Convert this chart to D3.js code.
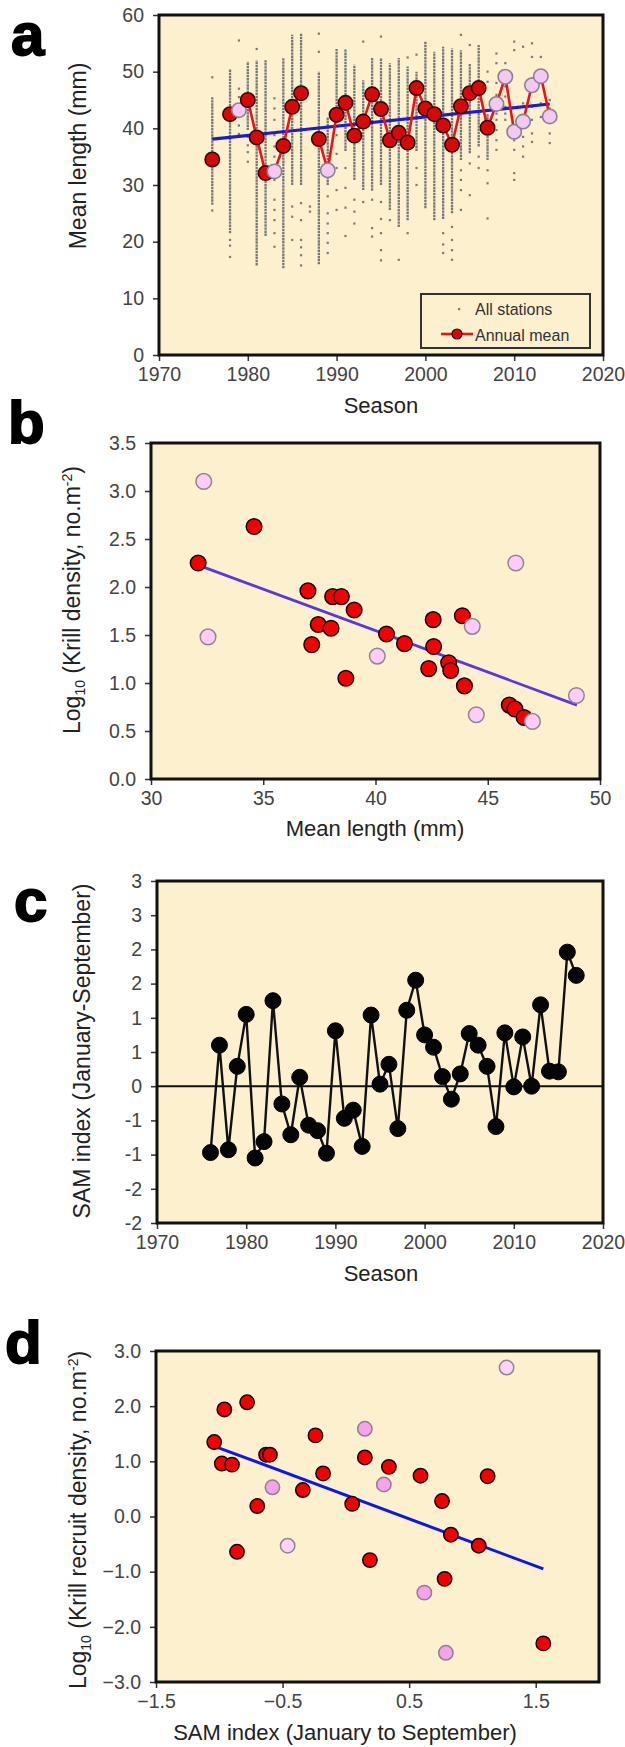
<!DOCTYPE html>
<html><head><meta charset="utf-8">
<script src="https://cdn.jsdelivr.net/npm/d3@7"></script>
<style>body{margin:0;background:#fff}</style>
</head><body><svg id="c" width="625" height="1747"></svg>
<script>
// ---------- DATA ----------
// Panel a: annual mean krill length
const yearsA = [1976,1978,1979,1980,1981,1982,1983,1984,1985,1986,1988,1989,1990,1991,1992,1993,1994,1995,1996,1997,1998,1999,2000,2001,2002,2003,2004,2005,2006,2007,2008,2009,2010,2011,2012,2013,2014];
const meansA = [34.5,42.5,43.2,45.0,38.4,32.1,32.4,36.9,43.8,46.2,38.1,32.6,42.4,44.5,38.7,41.2,46.0,43.4,37.9,39.2,37.5,47.1,43.5,42.5,40.5,37.1,43.9,46.2,47.1,40.1,44.3,49.1,39.4,41.2,47.6,49.2,42.1];
const pinkYearsA = [1979,1983,1989,2008,2009,2010,2011,2012,2013,2014];
const trendA = [[1976,38.1],[2014,44.3]];
// All stations: dense runs [year, low, high] and isolated station values
const stationRuns = [[1976,26.5,45.5],[1978,21.5,50.5],[1980,39.7,51.8],[1981,15.8,52],[1982,21,52],[1984,15.3,52.4],[1985,30,56.5],[1986,30,56.7],[1988,16,50],[1989,30,42],[1990,41,54.1],[1991,36,54],[1992,30.9,51.2],[1993,29.1,48.5],[1994,29,52.4],[1995,30,52.4],[1996,25.6,51.5],[1997,22.6,52.4],[1998,23.8,50.9],[1999,36,50],[2000,25.9,55.3],[2001,23.8,53.5],[2002,24,54.4],[2003,25,54.1],[2004,34.4,53.8],[2005,35.6,51.5],[2006,36.8,54.7],[2007,34.4,42.6]];
const stationDots = [
 [1976,[49,25.5]],[1978,[20.3,19.3,17.3]],[1979,[55.5,47,45.5,44,42,40.5,39]],[1980,[38.5,37,35.8,34.1]],[1981,[54]],
 [1983,[45.3,43.5,41.5,38.8,36.8,35,32.6,30.9,27.4,25.6,23.8,21.5,19.1]],[1985,[26.2,24.4,20.3]],[1986,[26.8,23.8,20.3,19,17.6,15.8]],
 [1987,[26.2,25.3]],[1988,[56.7,53.5]],[1989,[28,25,23.2,21.5,19.8,18]],[1990,[38.8,35.5,33,29.1,25.6]],[1991,[33,29.5,26,21]],
 [1992,[27.4,25.3,23.2]],[1993,[55.3,27]],[1994,[27.4,22.4,20.9]],[1995,[56.2,27,24,21.5,18.5,16.7]],[1996,[23.8]],[1997,[16.8]],
 [1998,[52.5,21.5]],[1999,[53,33,30]],[2002,[21.5,19.5,18]],[2003,[22.6,20.3,18.5,16.8]],[2004,[56.5,32.6,30.9,29.1,25.6]],
 [2005,[54.7,33.8,28.2]],[2006,[35,33]],[2007,[50,48.2,32.6,30.3,24.1]],[2008,[53.2,51.5,48,45.9,44.4,42.6,41.5,39.7,37.9,36.2]],
 [2009,[51.5,49.4,47.4,45.6,43.8,42.6,41.5]],[2010,[55.3,53.8,40.3,37.9,36.2,32.1,30.9]],[2011,[54.4,44.4,42,40.3,38.5,36.8,35]],
 [2012,[55,52.6,48.8,46.5,43.8,41.5,39.1,37.6]],[2013,[52.6,50,44.4,42]],[2014,[45,43.5,41.5,39.1,37.4]]];
const ticksAx = [1970,1980,1990,2000,2010,2020];
const ticksAy = [0,10,20,30,40,50,60];

// Panel b: log10 krill density vs mean length
const bRed = [[34.59,2.63],[32.10,2.25],[36.99,1.96],[38.09,1.90],[38.48,1.90],[39.05,1.76],[37.45,1.61],[38.02,1.57],[37.16,1.40],[38.68,1.05],[40.49,1.51],[41.29,1.41],[42.57,1.66],[42.59,1.38],[42.37,1.15],[43.26,1.21],[43.35,1.13],[43.87,1.70],[43.96,0.97],[45.96,0.77],[46.21,0.73],[46.62,0.64]];
const bPink = [[32.35,3.10],[32.54,1.48],[40.08,1.28],[44.31,1.59],[44.49,0.67],[46.25,2.25],[46.99,0.60],[48.95,0.87]];
const trendB = [[32.31,2.21],[48.97,0.77]];
const ticksBx = [30,35,40,45,50];
const ticksBy = [0,0.5,1,1.5,2,2.5,3,3.5];

// Panel c: SAM index (January-September) by season
const yearsC = d3.range(1976,2018);
const samC = [-0.97,0.60,-0.93,0.29,1.05,-1.05,-0.81,1.25,-0.26,-0.71,0.13,-0.57,-0.65,-0.98,0.81,-0.47,-0.35,-0.88,1.04,0.03,0.32,-0.62,1.11,1.55,0.75,0.57,0.14,-0.19,0.18,0.77,0.60,0.29,-0.59,0.78,-0.01,0.72,0.00,1.19,0.22,0.21,1.96,1.62];
const ticksCx = [1970,1980,1990,2000,2010,2020];
const ticksCy = [-2,-1.5,-1,-0.5,0,0.5,1,1.5,2,2.5,3];

// Panel d: log10 krill recruit density vs SAM index
const dRed = [[-0.78,2.07],[-0.96,1.94],[-1.04,1.35],[-0.98,0.96],[-0.90,0.94],[-0.63,1.12],[-0.60,1.12],[-0.24,1.47],[0.15,1.07],[0.34,0.90],[-0.18,0.78],[-0.34,0.48],[0.59,0.74],[1.12,0.73],[-0.70,0.19],[0.05,0.23],[0.76,0.28],[0.83,-0.33],[1.05,-0.53],[-0.86,-0.64],[0.19,-0.79],[0.78,-1.13],[1.56,-2.30]];
const dPinkMed = [[0.15,1.59],[-0.58,0.53],[0.30,0.58],[0.62,-1.38],[0.79,-2.47]];
const dPinkLight = [[1.27,2.70],[-0.46,-0.53]];
const trendD = [[-1.01,1.25],[1.56,-0.95]];
const ticksDx = [-1.5,-0.5,0.5,1.5];
const ticksDy = [-3,-2,-1,0,1,2,3];

// ---------- DRAWING ----------
const FONT = '"Liberation Sans", Arial, Helvetica, sans-serif';
const BG = '#fdf0cf';
const svg = d3.select('#c').attr('font-family', FONT);
svg.append('rect').attr('width',625).attr('height',1747).attr('fill','#fff');

function panel(L, xd, yd, xt, yt, xf, yf){
  const x = d3.scaleLinear().domain(xd).range([L.x0, L.x1]);
  const y = d3.scaleLinear().domain(yd).range([L.y1, L.y0]);
  const g = svg.append('g');
  g.append('rect').attr('x',L.x0).attr('y',L.y0).attr('width',L.x1-L.x0).attr('height',L.y1-L.y0).attr('fill',BG);
  const gx = g.append('g').attr('transform',`translate(0,${L.y1})`)
    .call(d3.axisBottom(x).tickValues(xt).tickFormat(xf).tickSize(6).tickPadding(6));
  const gy = g.append('g').attr('transform',`translate(${L.x0},0)`)
    .call(d3.axisLeft(y).tickValues(yt).tickFormat(yf).tickSize(6).tickPadding(9));
  [gx,gy].forEach(a=>{
    a.attr('font-family',FONT).attr('font-size',19.5);
    a.select('.domain').remove();
    a.selectAll('line').attr('stroke','#333').attr('stroke-width',1.5);
    a.selectAll('text').attr('fill','#444');
  });
  const marks = g.append('g');
  const border = () => g.append('rect').attr('x',L.x0).attr('y',L.y0).attr('width',L.x1-L.x0).attr('height',L.y1-L.y0)
      .attr('fill','none').attr('stroke','#111').attr('stroke-width',3);
  g.append('text').attr('x',L.xtx).attr('y',L.xty).attr('text-anchor','middle').attr('font-size',22).attr('fill','#222').text(L.xtitle);
  g.append('text').attr('x',L.lx).attr('y',L.ly).attr('font-size',60).attr('font-weight','bold')
    .attr('stroke','#000').attr('stroke-width',1.8).attr('fill','#000').text(L.letter);
  const yl = g.append('text').attr('transform',`translate(${L.ytx},${L.yty}) rotate(-90)`).attr('text-anchor','middle')
    .attr('font-size',23).attr('fill','#222');
  return {x,y,g,marks,border,yl};
}
function supTitle(t, pre, post){
  t.append('tspan').text('Log');
  t.append('tspan').attr('font-size',14).attr('dy',5).text('10');
  t.append('tspan').attr('dy',-5).text(pre);
  t.append('tspan').attr('font-size',14).attr('dy',-8).text('-2');
  t.append('tspan').attr('dy',8).text(post);
}

// ----- Panel a -----
const A = panel({x0:159,x1:603,y0:15,y1:355,xtitle:'Season',xtx:381,xty:413,ytx:86,yty:156,letter:'a',lx:11,ly:55},
  [1970,2020],[0,60],ticksAx,ticksAy,d3.format('d'),d3.format('d'));
A.yl.text('Mean length (mm)');
stationRuns.forEach(([yr,lo,hi])=>{
  A.marks.append('line').attr('x1',A.x(yr)).attr('x2',A.x(yr)).attr('y1',A.y(lo)).attr('y2',A.y(hi))
    .attr('stroke','#777').attr('stroke-width',2.3).attr('stroke-dasharray','2.4 0.7');
});
stationDots.forEach(([yr,vals])=>{
  A.marks.selectAll(null).data(vals).enter().append('rect')
    .attr('x',A.x(yr)-1.1).attr('y',d=>A.y(d)-1.1).attr('width',2.2).attr('height',2.2).attr('fill','#7a7a7a');
});
A.marks.append('line').attr('x1',A.x(trendA[0][0])).attr('y1',A.y(trendA[0][1])).attr('x2',A.x(trendA[1][0])).attr('y2',A.y(trendA[1][1]))
  .attr('stroke','#1c1ccf').attr('stroke-width',3.2);
const meanMap = new Map(yearsA.map((yr,i)=>[yr,meansA[i]]));
const fullYears = d3.range(1976,2015).map(yr=>({yr, v: meanMap.has(yr)?meanMap.get(yr):null}));
A.marks.append('path').datum(fullYears)
  .attr('d', d3.line().defined(d=>d.v!=null).x(d=>A.x(d.yr)).y(d=>A.y(d.v)))
  .attr('fill','none').attr('stroke','#e8141c').attr('stroke-width',2.6);
A.marks.selectAll(null).data(yearsA.map((yr,i)=>({yr,v:meansA[i],pink:pinkYearsA.includes(yr)}))).enter().append('circle')
  .attr('cx',d=>A.x(d.yr)).attr('cy',d=>A.y(d.v)).attr('r',7.2)
  .attr('fill',d=>d.pink?'#f3c9f1':'#d40a0a').attr('stroke',d=>d.pink?'#8d7f95':'#3a0505').attr('stroke-width',1.6);
A.border();
// legend
const lg = A.g.append('g');
lg.append('rect').attr('x',421).attr('y',294).attr('width',169).attr('height',54).attr('fill',BG).attr('stroke','#333').attr('stroke-width',2);
lg.append('rect').attr('x',458).attr('y',308).attr('width',2.2).attr('height',2.2).attr('fill','#7a7a7a');
lg.append('text').attr('x',475).attr('y',315).attr('font-size',16).attr('fill','#333').text('All stations');
lg.append('line').attr('x1',441).attr('x2',473).attr('y1',334).attr('y2',334).attr('stroke','#e8141c').attr('stroke-width',2.6);
lg.append('circle').attr('cx',457).attr('cy',334).attr('r',5).attr('fill','#d40a0a').attr('stroke','#3a0505').attr('stroke-width',1.2);
lg.append('text').attr('x',475).attr('y',341).attr('font-size',16).attr('fill','#333').text('Annual mean');

// ----- Panel b -----
const B = panel({x0:151,x1:600,y0:443,y1:779,xtitle:'Mean length (mm)',xtx:375,xty:836,ytx:80,yty:600,letter:'b',lx:8,ly:443},
  [30,50],[0,3.5],ticksBx,ticksBy,d3.format('d'),d3.format('.1f'));
supTitle(B.yl,' (Krill density, no.m',')');
B.marks.append('line').attr('x1',B.x(trendB[0][0])).attr('y1',B.y(trendB[0][1])).attr('x2',B.x(trendB[1][0])).attr('y2',B.y(trendB[1][1]))
  .attr('stroke','#5a37e0').attr('stroke-width',2.8);
B.marks.selectAll(null).data(bRed).enter().append('circle').attr('cx',d=>B.x(d[0])).attr('cy',d=>B.y(d[1])).attr('r',7.8)
  .attr('fill','#f20000').attr('stroke','#1a0000').attr('stroke-width',1.5);
B.marks.selectAll(null).data(bPink).enter().append('circle').attr('cx',d=>B.x(d[0])).attr('cy',d=>B.y(d[1])).attr('r',7.8)
  .attr('fill','#fdccf8').attr('stroke','#8f8690').attr('stroke-width',1.5);
B.border();

// ----- Panel c -----
const C = panel({x0:157,x1:603,y0:881,y1:1223,xtitle:'Season',xtx:381,xty:1281,ytx:90,yty:1051,letter:'c',lx:14,ly:921},
  [1970,2020],[-2,3],ticksCx,ticksCy,d3.format('d'),d=>String(Math.sign(d)*Math.round(Math.abs(d))).replace('-0','0'));
C.yl.text('SAM index (January-September)');
C.marks.append('line').attr('x1',C.x(1970)).attr('x2',C.x(2020)).attr('y1',C.y(0)).attr('y2',C.y(0)).attr('stroke','#111').attr('stroke-width',2);
C.marks.append('path').datum(yearsC.map((yr,i)=>[yr,samC[i]]))
  .attr('d',d3.line().x(d=>C.x(d[0])).y(d=>C.y(d[1]))).attr('fill','none').attr('stroke','#111').attr('stroke-width',2.4);
C.marks.selectAll(null).data(yearsC.map((yr,i)=>[yr,samC[i]])).enter().append('circle')
  .attr('cx',d=>C.x(d[0])).attr('cy',d=>C.y(d[1])).attr('r',8).attr('fill','#050505').attr('stroke','#000').attr('stroke-width',1);
C.border();

// ----- Panel d -----
const D = panel({x0:156,x1:599,y0:1351,y1:1682,xtitle:'SAM index (January to September)',xtx:345,xty:1740,ytx:86,yty:1520,letter:'d',lx:5,ly:1363},
  [-1.5,2.0],[-3,3],ticksDx,ticksDy,d3.format('.1f'),d3.format('.1f'));
supTitle(D.yl,' (Krill recruit density, no.m',')');
D.marks.append('line').attr('x1',D.x(trendD[0][0])).attr('y1',D.y(trendD[0][1])).attr('x2',D.x(trendD[1][0])).attr('y2',D.y(trendD[1][1]))
  .attr('stroke','#0b18e8').attr('stroke-width',3);
D.marks.selectAll(null).data(dRed).enter().append('circle').attr('cx',d=>D.x(d[0])).attr('cy',d=>D.y(d[1])).attr('r',7.2)
  .attr('fill','#f00000').attr('stroke','#1a0000').attr('stroke-width',1.5);
D.marks.selectAll(null).data(dPinkMed).enter().append('circle').attr('cx',d=>D.x(d[0])).attr('cy',d=>D.y(d[1])).attr('r',7.2)
  .attr('fill','#f5a3ea').attr('stroke','#8f7f90').attr('stroke-width',1.5);
D.marks.selectAll(null).data(dPinkLight).enter().append('circle').attr('cx',d=>D.x(d[0])).attr('cy',d=>D.y(d[1])).attr('r',7.2)
  .attr('fill','#fdd3fb').attr('stroke','#8f8690').attr('stroke-width',1.5);
D.border();
</script></body></html>
